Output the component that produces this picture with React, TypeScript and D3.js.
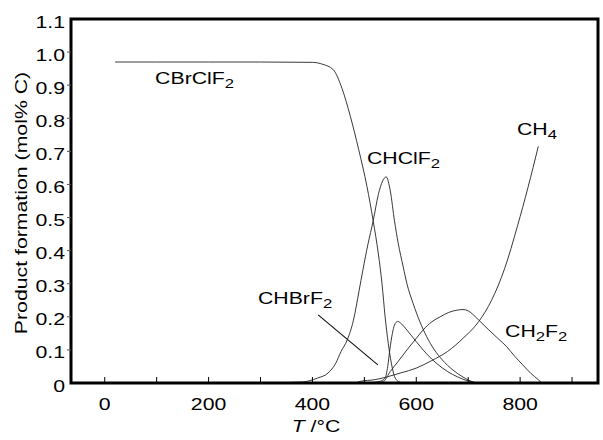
import React from 'react'
import * as d3 from 'd3'

// readings: [T in °C, product formation]
const cbrclf2 = [[20, 0.97], [100, 0.97], [200, 0.97], [300, 0.97], [400, 0.969], [420, 0.963], [440, 0.947], [457, 0.89], [473, 0.806], [489, 0.706], [505, 0.594], [517, 0.49], [527, 0.39], [534, 0.3], [540, 0.2], [546, 0.12], [552, 0.06], [558, 0.02], [566, 0.004], [575, 0]]
const chclf2 = [[0, 0], [300, 0], [380, 0.003], [410, 0.015], [430, 0.03], [445, 0.06], [455, 0.095], [467, 0.13], [479, 0.19], [490, 0.28], [497, 0.34], [507, 0.42], [517, 0.49], [527, 0.57], [535, 0.61], [542, 0.623], [550, 0.58], [558, 0.49], [565, 0.424], [575, 0.35], [582, 0.3], [594, 0.24], [607, 0.185], [620, 0.14], [635, 0.1], [650, 0.07], [670, 0.04], [690, 0.018], [710, 0.003], [720, 0]]
const chbrf2 = [[0, 0], [500, 0], [530, 0.005], [540, 0.015], [545, 0.05], [549, 0.1], [554, 0.15], [558, 0.175], [564, 0.186], [572, 0.178], [582, 0.16], [600, 0.125], [620, 0.088], [640, 0.058], [660, 0.035], [680, 0.018], [700, 0.006], [715, 0]]
const ch2f2 = [[0, 0], [520, 0], [537, 0.005], [550, 0.035], [565, 0.065], [582, 0.1], [600, 0.135], [613, 0.16], [630, 0.185], [646, 0.2], [662, 0.213], [678, 0.22], [690, 0.222], [700, 0.218], [710, 0.206], [723, 0.186], [740, 0.16], [757, 0.135], [774, 0.11], [790, 0.08], [805, 0.055], [820, 0.03], [835, 0.01], [842, 0]]
const ch4 = [[0, 0], [480, 0], [492, 0.005], [520, 0.01], [569, 0.03], [600, 0.045], [630, 0.068], [660, 0.095], [690, 0.135], [720, 0.185], [745, 0.25], [770, 0.345], [795, 0.475], [815, 0.59], [835, 0.715]]

const xLabels = [0, 200, 400, 600, 800]
const xMinor = [0, 100, 200, 300, 400, 500, 600, 700, 800, 900]
const yLabels = ['0', '0.1', '0.2', '0.3', '0.4', '0.5', '0.6', '0.7', '0.8', '0.9', '1.0', '1.1']

// label anchors in data units, with the chemical formula split into [text, isSub]
const labels = [
  { t: 97, v: 0.905, parts: [['CBrClF', false], ['2', true]] },
  { t: 505, v: 0.662, parts: [['CHClF', false], ['2', true]] },
  { t: 794, v: 0.75, parts: [['CH', false], ['4', true]] },
  { t: 295, v: 0.24, parts: [['CHBrF', false], ['2', true]] },
  { t: 771, v: 0.138, parts: [['CH', false], ['2', true], ['F', false], ['2', true]] },
]
const pointer = [[411, 0.206], [526, 0.055]]

const W = 603, H = 440
const FONT = '"Liberation Sans", Arial, Helvetica, sans-serif'
const SX = 1.33

export default function App() {
  const x = d3.scaleLinear().domain([-65, 950]).range([71, 598])
  const y = d3.scaleLinear().domain([0, 1.1]).range([383, 19])
  const line = d3.line<number[]>()
    .x(d => x(d[0]))
    .y(d => y(d[1]))
    .curve(d3.curveMonotoneX)

  const [x0, x1] = x.range()
  const [yb, yt] = y.range()

  return (
    <svg width={W} height={H} style={{ position: 'absolute', left: 0, top: 0, background: '#fff' }}
      fontFamily={FONT}>
      {[cbrclf2, chclf2, chbrf2, ch2f2, ch4].map((s, i) => (
        <path key={i} d={line(s) || ''} fill="none" stroke="#222" strokeWidth={0.9} />
      ))}
      <line x1={x(pointer[0][0])} y1={y(pointer[0][1])} x2={x(pointer[1][0])} y2={y(pointer[1][1])}
        stroke="#111" strokeWidth={1.1} />

      {/* frame */}
      <rect x={x0} y={yt} width={x1 - x0} height={yb - yt} fill="none" stroke="#000" strokeWidth={3} />

      {xMinor.map(t => (
        <line key={t} x1={x(t)} x2={x(t)} y1={yb} y2={yb - 6} stroke="#000" strokeWidth={1} />
      ))}
      {yLabels.map((l, i) => (
        <g key={l}>
          {i > 0 && i < 11 && <line x1={x0 - 4} x2={x0} y1={y(i / 10)} y2={y(i / 10)} stroke="#555" strokeWidth={1} />}
          <text transform={`translate(${x0 - 6},${y(i / 10) + 8.5}) scale(${SX},1)`} textAnchor="end"
            fontSize={16}>{l}</text>
        </g>
      ))}
      {xLabels.map(t => (
        <text key={t} transform={`translate(${x(t)},410) scale(${SX},1)`} textAnchor="middle" fontSize={16}>{t}</text>
      ))}

      <text transform={`translate(316,432) scale(${SX},1)`} textAnchor="middle" fontSize={16}>
        <tspan fontStyle="italic">T</tspan> /°C
      </text>
      <text transform={`translate(27,203) rotate(-90) scale(${SX},1)`} textAnchor="middle" fontSize={16}>
        Product formation (mol% C)
      </text>

      {labels.map((lb, i) => (
        <text key={i} transform={`translate(${x(lb.t)},${y(lb.v)}) scale(${SX},1)`} fontSize={16}>
          {lb.parts.map(([s, sub], j) => {
            const prevSub = j > 0 && lb.parts[j - 1][1]
            const dy = sub ? 4 : prevSub ? -4 : 0
            return <tspan key={j} dy={dy} fontSize={sub ? 12.5 : 16}>{s}</tspan>
          })}
        </text>
      ))}
    </svg>
  )
}
